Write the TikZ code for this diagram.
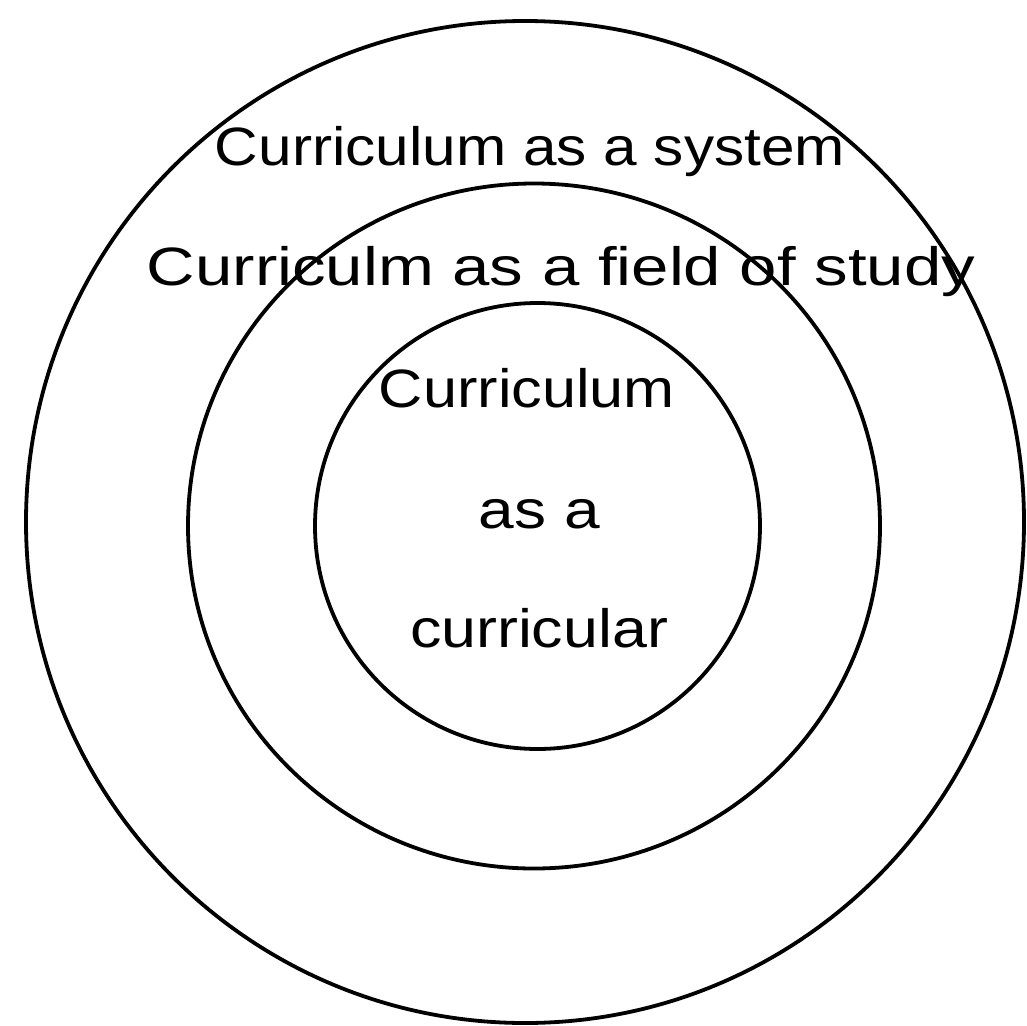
\documentclass[tikz,border=0pt]{standalone}
\usepackage{fontspec}
\setmainfont{Liberation Sans}
\usetikzlibrary{shapes.geometric}
\begin{document}
\begin{tikzpicture}[x=1pt,y=-1pt,
  ring/.style={draw=black, line width=3.8pt, ellipse, inner sep=0pt, outer sep=0pt},
  lbl/.style={anchor=base, inner sep=0pt, font=\fontsize{54}{60}\selectfont}]
\useasboundingbox[fill=white] (0,0) rectangle (1027,1025);
\node[ring, minimum width=998pt, minimum height=1002pt] (outer) at (525,522) {};
\node[ring, minimum width=692pt, minimum height=685pt] (middle) at (534,526) {};
\node[ring, minimum width=445pt, minimum height=446pt] (inner) at (537.5,526) {};
\node[lbl] (t1) at (530,165) {\scalebox{1.117}[1]{Curriculum as a system}};
\node[lbl] (t2) at (561,285) {\scalebox{1.243}[1]{Curriculm as a field of study}};
\node[lbl] (t3) at (527,407) {\scalebox{1.134}[1]{Curriculum}};
\node[lbl] (t4) at (539.5,528) {\scalebox{1.186}[1]{as a}};
\node[lbl] (t5) at (539,647) {\scalebox{1.162}[1]{curricular}};
\end{tikzpicture}
\end{document}
